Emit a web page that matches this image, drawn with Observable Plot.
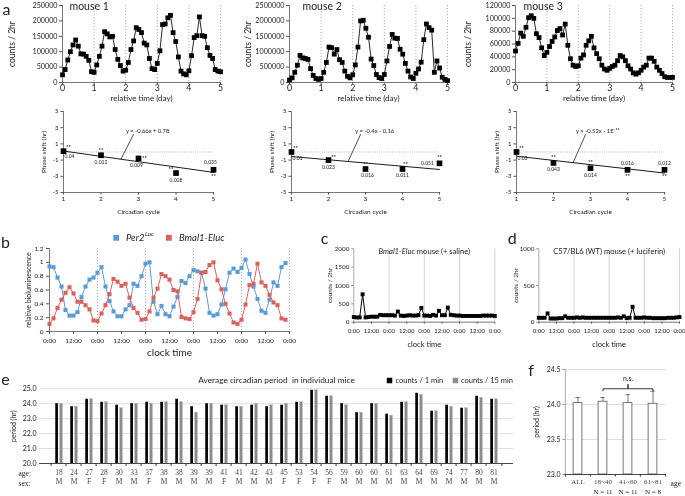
<!DOCTYPE html>
<html><head><meta charset="utf-8">
<script src="https://cdn.jsdelivr.net/npm/d3@7"></script>
<script src="https://cdn.jsdelivr.net/npm/@observablehq/plot@0.6"></script>
<style>
html,body{margin:0;padding:0;background:#fff;}
#fig{position:relative;width:685px;height:496px;overflow:hidden;background:#fff;}
#fig svg{position:absolute;overflow:visible;will-change:transform;}
</style></head><body><div id="fig"></div>
<script>
// ===================== DATA =====================
// Panel a (top): counts / 2hr, one value per 2-hour bin over 5 days
const binHours = 2;
const dayTicks = [0, 1, 2, 3, 4, 5];
const mouseNames = ["mouse 1", "mouse 2", "mouse 3"];
const mouse1Counts = [25000,42000,73000,100000,122000,138000,118000,93000,92000,85000,72000,35000,
 33000,57000,85000,118000,165000,158000,148000,150000,107000,75000,55000,37000,
 40000,65000,107000,135000,178000,172000,162000,128000,122000,78000,45000,42000,
 62000,103000,188000,190000,210000,218000,162000,133000,83000,37000,28000,25000,
 38000,87000,146000,152000,213000,152000,150000,113000,88000,78000,42000,37000,35000];
const mouse2Counts = [80000,150000,330000,560000,880000,800000,780000,750000,450000,230000,130000,100000,
 130000,330000,650000,1150000,1130000,920000,1070000,740000,650000,370000,200000,150000,
 250000,570000,1150000,2000000,2020000,1760000,1470000,760000,550000,260000,160000,130000,
 260000,700000,1170000,1560000,1440000,1430000,1080000,920000,620000,370000,180000,130000,
 300000,440000,660000,1390000,1900000,1780000,1700000,330000,700000,470000,170000,100000,60000];
const mouse3Counts = [49000,61000,77000,72000,86000,101000,104000,100000,76000,70000,54000,42000,
 47000,56000,64000,71000,81000,84000,74000,91000,58000,37000,27000,25000,
 26000,38000,43000,58000,65000,72000,54000,45000,37000,27000,21000,19000,
 22000,25000,27000,34000,42000,40000,34000,26000,21000,15000,13000,15000,
 19000,24000,27000,38000,38000,33000,24000,19000,14000,9000,8000,8000,8000];
const mouseYMax = [250000, 2500000, 120000];
const mouse1YTicks = [0,50000,100000,150000,200000,250000];
const mouse2YTicks = [0,500000,1000000,1500000,2000000,2500000];
const mouse3YTicks = [0,20000,40000,60000,80000,100000,120000];

// Panel a (bottom): phase shift per circadian cycle
const cycles = [1, 2, 3, 4, 5];
const phaseTicks = [-5, -3, -1, 1, 3, 5];
const phase1 = [0.1, -0.4, -0.8, -2.6, -2.2];
const phase2 = [0.0, -1.0, -2.1, -2.1, -1.4];
const phase3 = [0.0, -1.35, -2.0, -2.2, -2.2];
const pvals1 = ["0.04", "0.012", "0.009", "0.008", "0.035"];
const pvals2 = ["0.01", "0.023", "0.016", "0.011", "0.051"];
const pvals3 = ["0.03", "0.043", "0.014", "0.016", "0.012"];
const fitSlopes = [-0.66, -0.4, -0.52];
const fitIntercepts = [0.78, -0.16, 0];
const fitEquations = ["y = -0.66x + 0.78", "y = -0.4x - 0.16", "y = -0.52x - 1E\u207B\u00B9\u2075"];

// Panel b: relative bioluminescence, 2-hour bins over 5 days
const per2 = [0.94,0.93,0.78,0.65,0.31,0.23,0.23,0.28,0.50,0.65,0.75,0.78,
 0.85,0.93,0.65,0.44,0.29,0.22,0.22,0.32,0.38,0.69,0.66,0.80,
 0.98,1.00,0.43,0.25,0.37,0.25,0.22,0.36,0.50,0.73,0.70,0.80,
 0.89,0.87,0.85,0.62,0.27,0.23,0.25,0.39,0.61,0.85,0.91,0.86,
 0.92,1.04,0.83,0.65,0.47,0.30,0.27,0.46,0.71,0.66,0.93,0.99];
const bmal1 = [0.11,0.19,0.34,0.46,0.56,0.64,0.55,0.43,0.43,0.38,0.32,0.16,
 0.15,0.26,0.38,0.54,0.76,0.72,0.66,0.69,0.49,0.34,0.27,0.17,
 0.18,0.29,0.49,0.62,0.83,0.80,0.75,0.60,0.58,0.21,0.19,0.18,
 0.28,0.47,0.85,0.86,0.96,1.00,0.74,0.61,0.40,0.26,0.13,0.11,
 0.17,0.39,0.67,0.69,0.98,0.71,0.66,0.53,0.42,0.38,0.19,0.17];
const bYTicks = [0, 0.2, 0.4, 0.6, 0.8, 1, 1.2];
const bHourTicks = [0,12,24,36,48,60,72,84,96,108,120];
const bDayLines = [24, 48, 72, 96, 120];

// Panels c, d: counts / 2hr over 4 days
const cCounts = [140,130,130,760,130,140,150,150,150,200,190,190,190,190,180,290,180,170,180,190,180,180,190,390,
 180,180,170,200,180,310,190,190,400,200,190,180,180,170,170,170,170,170,170,170,180,180,180,180,170];
const dCounts = [60,60,60,120,50,50,50,55,55,80,60,60,60,65,60,65,60,60,60,60,60,60,60,60,
 60,60,60,65,60,80,55,60,210,60,60,60,65,60,60,55,55,55,55,55,60,60,60,65,70];
const cdHourTicks = [0,12,24,36,48,60,72,84,96];
const cdDayLines = [24, 48, 72, 96];
const cYTicks = [0, 500, 1000, 1500, 2000];
const dYTicks = [0, 500, 1000];

// Panel e: average circadian period per mouse
const ages = [18,24,27,28,30,33,37,38,38,39,39,41,41,42,43,45,53,54,56,59,60,60,61,63,64,69,74,77,80,81];
const sexes = ["M","M","F","F","M","M","F","M","M","M","M","F","M","M","M","F","F","F","F","M","M","M","M","M","M","M","M","M","M","M"];
const period1min = [24.0,23.8,24.3,24.1,23.9,24.0,24.1,24.1,24.3,23.8,24.0,23.9,23.8,23.9,23.8,23.9,24.1,24.9,24.5,24.0,23.4,24.0,23.3,24.1,24.7,23.5,23.9,23.7,24.5,24.3];
const period15min = [24.0,23.8,24.3,24.1,23.7,24.0,24.0,24.1,24.1,23.4,24.0,23.9,23.8,24.0,23.9,24.0,24.1,24.9,24.5,23.9,23.4,24.0,23.2,24.1,24.6,23.5,23.8,23.7,24.4,24.3];
const eYTicks = [20, 21, 22, 23, 24, 25];

// Panel f: period by age group
const groups = ["ALL", "18~40", "41~60", "61~81"];
const groupMeans = [24.02, 24.04, 24.02, 24.01];
const groupErrs = [0.08, 0.06, 0.12, 0.18];
const groupN = [null, 11, 11, 8];
const fYTicks = [23.0, 23.5, 24.0, 24.5];

// ===================== DRAWING =====================
const FONT = "Lato, 'Open Sans', sans-serif";
const SERIF = "'Liberation Serif', 'DejaVu Serif', serif";
const BLUE = "#5b9bd5", RED = "#d9625d", INK = "#222", AXIS = "#555";
const fig = document.getElementById("fig");
const ctx = document.createElement("canvas").getContext("2d");
function tw(text, size, style = "normal", family = FONT) { ctx.font = `${style} ${size}px ${family}`; return ctx.measureText(text).width; }
function place(el, left, top) { el.style.left = left + "px"; el.style.top = top + "px"; fig.appendChild(el); }
const st = (size) => ({fontFamily: FONT, fontSize: size + "px", color: INK, background: "transparent", overflow: "visible"});
const T = (s, o) => Plot.text([s], {text: d => d, fill: INK, textAnchor: "middle", lineAnchor: "middle", ...o});

// ---- a: top row
const mouseCounts = [mouse1Counts, mouse2Counts, mouse3Counts];
const mouseYTicks = [mouse1YTicks, mouse2YTicks, mouse3YTicks];
const aTop = [
  {left: 0, width: 228, mL: 62, mR: 8, nameDx: 7, labDx: -50},
  {left: 228, width: 228, mL: 61, mR: 9, nameDx: 13, labDx: -41},
  {left: 458, width: 227, mL: 57, mR: 13, nameDx: 8, labDx: -47}
];
aTop.forEach((L, k) => {
  const data = mouseCounts[k].map((v, i) => ({t: i * binHours / 24, v}));
  const svg = Plot.plot({
    width: L.width, height: 102, marginLeft: L.mL, marginRight: L.mR, marginTop: 5, marginBottom: 20,
    style: st(7.2),
    x: {domain: [0, 5]}, y: {domain: [0, mouseYMax[k]]},
    marks: [
      Plot.ruleX(dayTicks.slice(1), {stroke: "#9a9a9a", strokeWidth: 0.8, strokeDasharray: "1.2,1.8"}),
      Plot.ruleX([0], {stroke: AXIS, strokeWidth: 0.8}),
      Plot.ruleY([0], {stroke: AXIS, strokeWidth: 0.8}),
      Plot.axisY({ticks: mouseYTicks[k], tickSize: 3, tickPadding: 2, tickFormat: d => String(d), fontSize: 7.2, label: null, stroke: AXIS}),
      Plot.axisX({ticks: dayTicks, tickSize: 2, tickPadding: 0, tickFormat: d => String(d), fontSize: 8.8, label: null, stroke: AXIS}),
      Plot.line(data, {x: "t", y: "v", stroke: "#111", strokeWidth: 0.9}),
      Plot.dot(data, {x: "t", y: "v", symbol: "square", r: 2.7, fill: "#000"}),
      T(mouseNames[k], {frameAnchor: "top-left", dx: L.nameDx, dy: 1.5, textAnchor: "start", fontSize: 10.5}),
      T("relative time (day)", {frameAnchor: "bottom", dy: 15.5, fontSize: 8}),
      T("counts / 2hr", {frameAnchor: "left", dx: L.labDx, rotate: -90, fontSize: 8.5}),
      k === 0 ? T("a", {frameAnchor: "top-left", dx: -56, dy: 4.5, fontSize: 16}) : null
    ]
  });
  place(svg, L.left, 0);
});

// ---- a: phase shift row
const phases = [phase1, phase2, phase3];
const pvals = [pvals1, pvals2, pvals3];
// per point label offsets: [starDx, starDy, pDx, pDy]
const labelOffsets = [
  [[5,-4,6,5],[0,-5,0,7],[6,0,-2,7],[-5,-4,0,7],[0,6,-3,-7]],
  [[4,-4,6,6],[5,-3,0,7],[0,-5,2,6],[3,-5,0,6],[0,-6,-12,0]],
  [[5,-4,6,6],[0,-6,0,6],[0,-6,0,7],[0,6,0,-6],[0,6,0,-6]]
];
const aBot = [
  {left: 0, width: 228, mL: 63, mR: 15, eqDx: 14},
  {left: 228, width: 228, mL: 63, mR: 17, eqDx: 14},
  {left: 458, width: 227, mL: 58, mR: 21, eqDx: 12}
];
aBot.forEach((L, k) => {
  const pts = cycles.map((c, i) => ({c, v: phases[k][i], p: pvals[k][i]}));
  const fit = x => fitSlopes[k] * x + fitIntercepts[k];
  const fitLine = [cycles[0], cycles[cycles.length - 1]].map(x => ({x, y: fit(x)}));
  const leadX1 = 2.53, leadX2 = 2.87, leadY2 = 2.2;
  const labelMarks = [];
  pts.forEach((p, i) => {
    const o = labelOffsets[k][i];
    labelMarks.push(Plot.text([p], {x: "c", y: "v", text: () => "**", dx: o[0], dy: o[1], fontSize: 6, fontWeight: "bold", fill: INK, textAnchor: "middle", lineAnchor: "middle"}));
    labelMarks.push(Plot.text([p], {x: "c", y: "v", text: "p", dx: o[2], dy: o[3], fontSize: 5, fill: INK, textAnchor: "middle", lineAnchor: "middle"}));
  });
  const svg = Plot.plot({
    width: L.width, height: 116, marginLeft: L.mL, marginRight: L.mR, marginTop: 11, marginBottom: 24,
    style: st(6),
    x: {domain: [1, 5]}, y: {domain: [-5, 5]},
    marks: [
      Plot.ruleY([0], {stroke: "#aaa", strokeWidth: 0.8, strokeDasharray: "1,1.2"}),
      Plot.ruleX([1], {stroke: AXIS, strokeWidth: 0.8}),
      Plot.ruleY([-5], {stroke: AXIS, strokeWidth: 0.8}),
      Plot.axisY({ticks: phaseTicks, tickSize: 2.5, tickPadding: 2.5, tickFormat: d => String(d), fontSize: 6, label: null, stroke: AXIS}),
      Plot.axisX({ticks: cycles, tickSize: 2.5, tickPadding: 1.5, tickFormat: d => String(d), fontSize: 6.5, label: null, stroke: AXIS}),
      Plot.line(fitLine, {x: "x", y: "y", stroke: "#000", strokeWidth: 0.9}),
      Plot.link([0], {x1: () => leadX1, y1: () => fit(leadX1), x2: () => leadX2, y2: () => leadY2, stroke: "#000", strokeWidth: 0.7}),
      Plot.text([fitEquations[k]], {x: () => leadX2, y: () => leadY2, text: d => d, dx: L.eqDx, dy: -3.5, fontSize: 5.8, fill: INK, textAnchor: "middle", lineAnchor: "middle"}),
      Plot.dot(pts, {x: "c", y: "v", symbol: "square", r: 3.2, fill: "#000"}),
      ...labelMarks,
      T("Phase shift (hr)", {frameAnchor: "left", dx: -20, rotate: -90, fontSize: 6.5}),
      T("Circadian cycle", {frameAnchor: "bottom", dy: 19, fontSize: 6.5})
    ]
  });
  place(svg, L.left, 100);
});

// ---- b
{
  const bData = per2.map((v, i) => ({h: i * binHours, per2: v, bmal1: bmal1[i]}));
  const legFs = 9.5;
  const per2W = tw("Per2", legFs, "italic");
  const svg = Plot.plot({
    width: 300, height: 135, marginLeft: 49, marginRight: 11, marginTop: 23, marginBottom: 29,
    style: st(6.5),
    x: {domain: [0, 120]}, y: {domain: [0, 1.2]},
    marks: [
      Plot.ruleX(bDayLines, {stroke: "#9a9a9a", strokeWidth: 0.8, strokeDasharray: "1.2,1.8"}),
      Plot.ruleX([0], {stroke: AXIS, strokeWidth: 0.8}),
      Plot.ruleY([0], {stroke: AXIS, strokeWidth: 0.8}),
      Plot.axisY({ticks: bYTicks, tickSize: 3, tickPadding: 3, tickFormat: d => String(+d.toFixed(1)), fontSize: 6.5, label: null, stroke: AXIS}),
      Plot.axisX({ticks: bHourTicks, tickSize: 3, tickPadding: 3.5, tickFormat: d => (d % 24 === 0 ? "0:00" : "12:00"), fontSize: 6.5, label: null, stroke: AXIS}),
      Plot.line(bData, {x: "h", y: "per2", stroke: BLUE, strokeWidth: 1}),
      Plot.dot(bData, {x: "h", y: "per2", symbol: "square", r: 2.3, fill: BLUE}),
      Plot.line(bData, {x: "h", y: "bmal1", stroke: RED, strokeWidth: 1}),
      Plot.dot(bData, {x: "h", y: "bmal1", symbol: "square", r: 2.3, fill: RED}),
      Plot.dot([0], {frameAnchor: "top-left", dx: 66.7, dy: -10.7, symbol: "square", r: 3.3, fill: BLUE}),
      T("Per2", {frameAnchor: "top-left", dx: 76.5, dy: -10.7, textAnchor: "start", fontStyle: "italic", fontSize: legFs}),
      T("Luc", {frameAnchor: "top-left", dx: 76.5 + per2W + 0.5, dy: -14, textAnchor: "start", fontStyle: "italic", fontSize: 6.2}),
      Plot.dot([0], {frameAnchor: "top-left", dx: 119.3, dy: -10.7, symbol: "square", r: 3.3, fill: RED}),
      T("Bmal1-Eluc", {frameAnchor: "top-left", dx: 129.5, dy: -10.7, textAnchor: "start", fontStyle: "italic", fontSize: legFs}),
      T("clock time", {frameAnchor: "bottom", dy: 21, fontSize: 10}),
      T("relative bioluminescence", {frameAnchor: "left", dx: -21, rotate: -90, fontSize: 7}),
      T("b", {frameAnchor: "top-left", dx: -44, dy: -6, fontSize: 16})
    ]
  });
  place(svg, 0, 225);
}

// ---- c and d
function cdPanel(counts, yMax, yTicks, left, width, mL, mR, titleParts, letter, letterDx, labDx) {
  const data = counts.map((v, i) => ({h: i * binHours, v}));
  const fs = 7.6;
  const widths = titleParts.map(p => tw(p.t, fs, p.italic ? "italic" : "normal"));
  const total = d3.sum(widths);
  let acc = -total / 2;
  const titleMarks = titleParts.map((p, i) => {
    const m = T(p.t.trimStart(), {frameAnchor: "top", dx: acc + (p.t.startsWith(" ") ? tw(" ", fs) : 0), dy: 2.7, textAnchor: "start", fontSize: fs, fontStyle: p.italic ? "italic" : "normal"});
    acc += widths[i];
    return m;
  });
  return Plot.plot({
    width, height: 135, marginLeft: mL, marginRight: mR, marginTop: 23.3, marginBottom: 38.3,
    style: st(6.5),
    x: {domain: [0, 96]}, y: {domain: [0, yMax]},
    marks: [
      Plot.ruleX(cdDayLines, {stroke: "#c8c8c8", strokeWidth: 0.8}),
      Plot.ruleX([0], {stroke: "#888", strokeWidth: 0.7}),
      Plot.ruleY([0], {stroke: AXIS, strokeWidth: 0.8}),
      Plot.axisY({ticks: yTicks, tickSize: 2, tickPadding: 2.5, tickFormat: d => String(d), fontSize: 6.3, label: null, stroke: "#888"}),
      Plot.axisX({ticks: cdHourTicks, tickSize: 2, tickPadding: 4.3, tickFormat: d => (d % 24 === 0 ? "0:00" : "12:00"), fontSize: 6, label: null, stroke: AXIS}),
      Plot.line(data, {x: "h", y: "v", stroke: "#000", strokeWidth: 1}),
      Plot.dot(data, {x: "h", y: "v", symbol: "square", r: 2.2, fill: "#000"}),
      ...titleMarks,
      T("clock time", {frameAnchor: "bottom", dy: 22.6, fontSize: 7.5}),
      T("counts / 2hr", {frameAnchor: "left", dx: labDx, rotate: -90, fontSize: 6.5}),
      T(letter, {frameAnchor: "top-left", dx: letterDx, dy: -9.8, fontSize: 16})
    ]
  });
}
place(cdPanel(cCounts, 2000, cYTicks, 300, 200, 53.3, 5.7,
  [{t: "Bmal1-Eluc", italic: true}, {t: " mouse (+ saline)", italic: false}], "c", -29.3, -24), 300, 225);
place(cdPanel(dCounts, 1000, dYTicks, 500, 185, 38.3, 6,
  [{t: "C57/BL6 (WT) mouse (+ luciferin)", italic: false}], "d", -26.6, -22.6), 500, 225);

// ---- e
{
  const n = ages.length;
  const W = 520, mL = 39, mR = 7;
  const bw = (W - mL - mR) / n;
  const idx = ages.map((_, i) => i);
  const eData = idx.map(i => ({i, p1: period1min[i], p15: period15min[i]}));
  const eBase = eYTicks[0];
  const svg = Plot.plot({
    width: W, height: 124, marginLeft: mL, marginRight: mR, marginTop: 16.3, marginBottom: 33,
    style: st(7),
    x: {type: "band", domain: idx, padding: 0}, y: {domain: [20, 25]},
    marks: [
      Plot.gridY({ticks: eYTicks.slice(1), stroke: "#d6d6d6", strokeOpacity: 1, strokeWidth: 0.8}),
      Plot.axisY({ticks: eYTicks, tickSize: 0, tickPadding: 3, tickFormat: d => d.toFixed(1), fontSize: 7, label: null}),
      Plot.barY(eData, {x: "i", y1: () => eBase, y2: "p1", fill: "#000", insetLeft: bw * 0.27, insetRight: bw * 0.51}),
      Plot.barY(eData, {x: "i", y1: () => eBase, y2: "p15", fill: "#8c8c8c", stroke: "#b0b0b0", strokeWidth: 0.4, insetLeft: bw * 0.55, insetRight: bw * 0.23}),
      Plot.ruleY([20], {stroke: "#333", strokeWidth: 0.9}),
      Plot.axisX({ticks: idx, tickSize: 3, tickFormat: () => "", label: null, dx: -bw / 2, stroke: "#333"}),
      Plot.axisX({ticks: [n - 1], tickSize: 3, tickFormat: () => "", label: null, dx: bw / 2, stroke: "#333"}),
      Plot.axisX({ticks: idx, tickSize: 0, tickPadding: 6, tickFormat: i => String(ages[i]), fontSize: 7.5, fontFamily: SERIF, fill: "#444", label: null}),
      Plot.axisX({ticks: idx, tickSize: 0, tickPadding: 15.5, tickFormat: i => sexes[i], fontSize: 7.5, fontFamily: SERIF, fill: "#444", label: null}),
      T("age:", {frameAnchor: "bottom-left", dx: -21, dy: 10, textAnchor: "start", fontSize: 7.5, fontFamily: SERIF}),
      T("sex:", {frameAnchor: "bottom-left", dx: -21, dy: 20, textAnchor: "start", fontSize: 7.5, fontFamily: SERIF}),
      T("Average circadian period  in individual mice", {frameAnchor: "top", dy: -8.3, fontSize: 8.3}),
      Plot.dot([0], {frameAnchor: "top-left", dx: 350, dy: -8.3, symbol: "square", r: 3.1, fill: "#000"}),
      T("counts / 1 min", {frameAnchor: "top-left", dx: 356, dy: -8.3, textAnchor: "start", fontSize: 7.5}),
      Plot.dot([0], {frameAnchor: "top-left", dx: 416, dy: -8.3, symbol: "square", r: 3.1, fill: "#8c8c8c"}),
      T("counts / 15 min", {frameAnchor: "top-left", dx: 421.5, dy: -8.3, textAnchor: "start", fontSize: 7.5}),
      T("period (hr)", {frameAnchor: "left", dx: -26, rotate: -90, fontSize: 7}),
      T("e", {frameAnchor: "top-left", dx: -34, dy: -9.3, fontSize: 16})
    ]
  });
  place(svg, 0, 372);
}

// ---- f
{
  const fData = groups.map((g, i) => ({g, mean: groupMeans[i], err: groupErrs[i], n: groupN[i]}));
  const top = d3.max(fData, d => d.mean + d.err);
  const brX = [groups[1], groups[1], groups[2], groups[2], groups[2], groups[3], groups[3]];
  const brY = [top + 0.005, top + 0.035, top + 0.035, top + 0.1, top + 0.035, top + 0.035, top + 0.005];
  const bracket = brX.map((g, i) => ({g, y: brY[i]}));
  const svg = Plot.plot({
    width: 157, height: 131, marginLeft: 36.5, marginRight: 19.25, marginTop: 4, marginBottom: 22,
    style: st(7),
    x: {type: "band", domain: groups, padding: 0}, y: {domain: [23, 24.5]},
    marks: [
      Plot.gridY({ticks: fYTicks.slice(1), stroke: "#d6d6d6", strokeOpacity: 1, strokeWidth: 0.8}),
      Plot.ruleX([0], {x: () => groups[0], dx: -12.65, y1: () => 23, y2: () => 24.5, stroke: "#888", strokeWidth: 0.7}),
      Plot.axisY({ticks: fYTicks, tickSize: 2, tickPadding: 2.5, tickFormat: d => d.toFixed(1), fontSize: 7, label: null, stroke: "#888"}),
      Plot.ruleX(fData, {x: "g", y1: "mean", y2: d => d.mean + d.err, stroke: "#555", strokeWidth: 0.8}),
      Plot.tickY(fData, {x: "g", y: d => d.mean + d.err, stroke: "#555", strokeWidth: 0.8, insetLeft: 10.3, insetRight: 10.3}),
      Plot.barY(fData, {x: "g", y1: () => 23, y2: "mean", fill: "#fff", stroke: "#555", strokeWidth: 0.8, insetLeft: 8.1, insetRight: 8.1}),
      Plot.ruleY([23], {stroke: "#333", strokeWidth: 0.9}),
      Plot.axisX({ticks: groups, tickSize: 2.5, tickFormat: () => "", label: null, dx: -12.65, stroke: "#333"}),
      Plot.axisX({ticks: [groups[3]], tickSize: 2.5, tickFormat: () => "", label: null, dx: 12.65, stroke: "#333"}),
      Plot.axisX({ticks: groups, tickSize: 0, tickPadding: 5, fontSize: 7, fontFamily: SERIF, fill: "#444", label: null}),
      Plot.text(fData.filter(d => d.n), {x: "g", text: d => "N = " + d.n, frameAnchor: "bottom", dy: 17.7, fontSize: 7, fontFamily: SERIF, fill: INK, lineAnchor: "middle"}),
      T("age", {frameAnchor: "bottom-right", dx: 9.5, dy: 9, fontSize: 7.5, fontFamily: SERIF}),
      Plot.line(bracket, {x: "g", y: "y", stroke: "#222", strokeWidth: 0.9}),
      Plot.text([0], {x: () => groups[2], y: () => top + 0.1, text: () => "n.s.", dy: -5, fontSize: 7, fill: INK, lineAnchor: "middle"}),
      T("period (hr)", {frameAnchor: "left", dx: -28, rotate: -90, fontSize: 7}),
      T("f", {frameAnchor: "top-left", dx: -34, dy: 1.5, fontSize: 16})
    ]
  });
  place(svg, 528, 365);
}
</script></body></html>
